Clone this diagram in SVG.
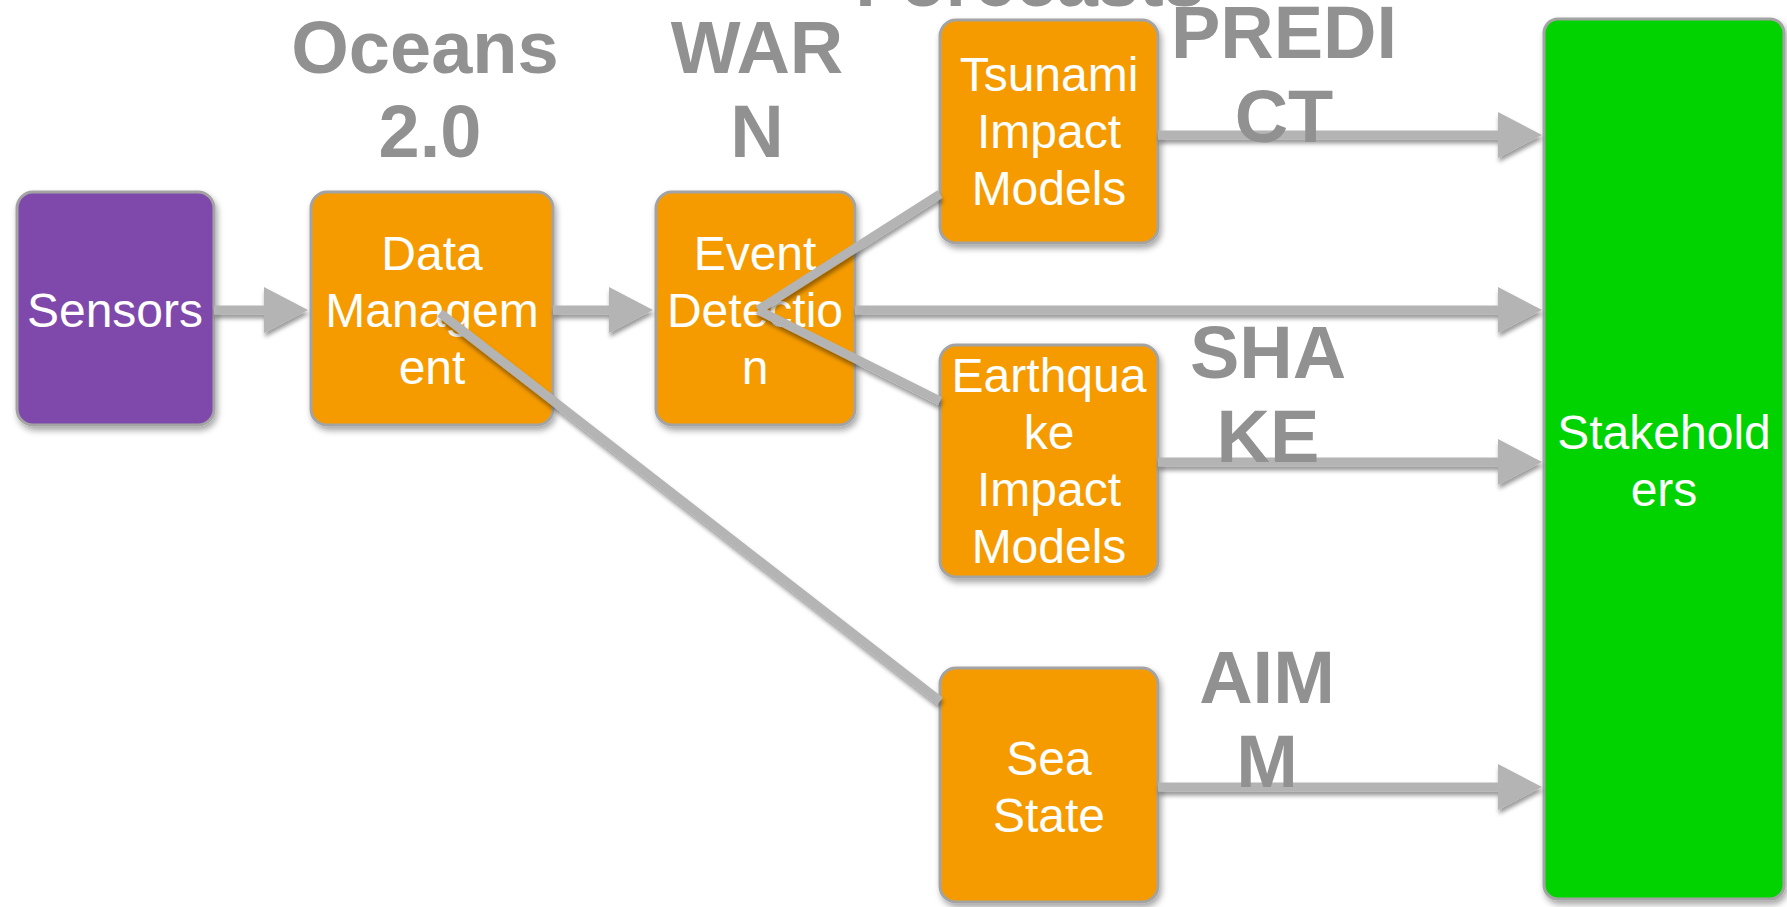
<svg xmlns="http://www.w3.org/2000/svg" width="1787" height="907" viewBox="0 0 1787 907">
  <defs>
    <filter id="sh" x="-10%" y="-10%" width="130%" height="130%">
      <feDropShadow dx="2" dy="4" stdDeviation="3" flood-color="#000" flood-opacity="0.35"/>
    </filter>
    <filter id="lsh" x="-5%" y="-50%" width="110%" height="200%" filterUnits="userSpaceOnUse">
      <feDropShadow dx="1" dy="4" stdDeviation="2" flood-color="#000" flood-opacity="0.4"/>
    </filter>
    <marker id="ah" markerUnits="userSpaceOnUse" markerWidth="44" markerHeight="46" refX="24" refY="23" orient="auto" viewBox="0 0 44 46">
      <path d="M0,0 L44,23 L0,46 Z" fill="#b4b4b4"/>
    </marker>
  </defs>
  <style>
    .box { stroke: #a3a3a3; stroke-width: 3; filter: url(#sh); }
    .org { fill: #f59b00; }
    .pur { fill: #7e4aab; }
    .grn { fill: #00d300; }
    .nt { font-family: "Liberation Sans", Arial, sans-serif; font-size: 48px; fill: #ffffff; text-anchor: middle; }
    .lb { font-family: "Liberation Sans", Arial, sans-serif; font-size: 74px; font-weight: bold; fill: #919191; text-anchor: middle; }
    .cn { stroke: #b4b4b4; stroke-width: 9; fill: none; }
  </style>
  <rect width="1787" height="907" fill="#ffffff"/>

  <g id="sensors">
    <rect class="box pur" x="17" y="192" width="197" height="233" rx="16"/>
    <text class="nt" x="115" y="327">Sensors</text>
  </g>
  <g id="data-management">
    <rect class="box org" x="311" y="192" width="242" height="233" rx="16"/>
    <text class="nt" x="432" y="270">Data</text>
    <text class="nt" x="432" y="327">Managem</text>
    <text class="nt" x="432" y="384">ent</text>
  </g>
  <g id="event-detection">
    <rect class="box org" x="656" y="192" width="199" height="233" rx="16"/>
    <text class="nt" x="755" y="270">Event</text>
    <text class="nt" x="755" y="327">Detectio</text>
    <text class="nt" x="755" y="384">n</text>
  </g>
  <g id="tsunami">
    <rect class="box org" x="940" y="20" width="218" height="223" rx="16"/>
    <text class="nt" x="1049" y="91">Tsunami</text>
    <text class="nt" x="1049" y="148">Impact</text>
    <text class="nt" x="1049" y="205">Models</text>
  </g>
  <g id="earthquake">
    <rect class="box org" x="940" y="345" width="218" height="232" rx="16"/>
    <text class="nt" x="1049" y="392">Earthqua</text>
    <text class="nt" x="1049" y="449">ke</text>
    <text class="nt" x="1049" y="506">Impact</text>
    <text class="nt" x="1049" y="563">Models</text>
  </g>
  <g id="sea-state">
    <rect class="box org" x="940" y="668" width="218" height="234" rx="16"/>
    <text class="nt" x="1049" y="775">Sea</text>
    <text class="nt" x="1049" y="832">State</text>
  </g>
  <g id="stakeholders">
    <rect class="box grn" x="1544" y="19" width="240" height="880" rx="14"/>
    <text class="nt" x="1664" y="449">Stakehold</text>
    <text class="nt" x="1664" y="506">ers</text>
  </g>

  <g id="connectors" filter="url(#lsh)">
    <line class="cn" x1="214" y1="310" x2="288" y2="310" marker-end="url(#ah)"/>
    <line class="cn" x1="553" y1="310" x2="633" y2="310" marker-end="url(#ah)"/>
    <line class="cn" x1="855" y1="310" x2="1522" y2="310" marker-end="url(#ah)"/>
    <line class="cn" x1="1158" y1="135" x2="1522" y2="135" marker-end="url(#ah)"/>
    <line class="cn" x1="1158" y1="462" x2="1522" y2="462" marker-end="url(#ah)"/>
    <line class="cn" x1="1158" y1="787" x2="1522" y2="787" marker-end="url(#ah)"/>
    <line class="cn" x1="758" y1="310" x2="940" y2="194"/>
    <line class="cn" x1="758" y1="310" x2="940" y2="401"/>
    <line class="cn" x1="440" y1="313" x2="940" y2="701"/>
  </g>

  <g id="labels">
    <text class="lb" x="425" y="73">Oceans</text>
    <text class="lb" x="430" y="157">2.0</text>
    <text class="lb" x="757" y="73">WAR</text>
    <text class="lb" x="757" y="157">N</text>
    <text class="lb" x="1030" y="6">Forecasts</text>
    <text class="lb" x="1284" y="58">PREDI</text>
    <text class="lb" x="1284" y="142">CT</text>
    <text class="lb" x="1268" y="378">SHA</text>
    <text class="lb" x="1268" y="462">KE</text>
    <text class="lb" x="1267" y="703">AIM</text>
    <text class="lb" x="1267" y="787">M</text>
  </g>
</svg>
